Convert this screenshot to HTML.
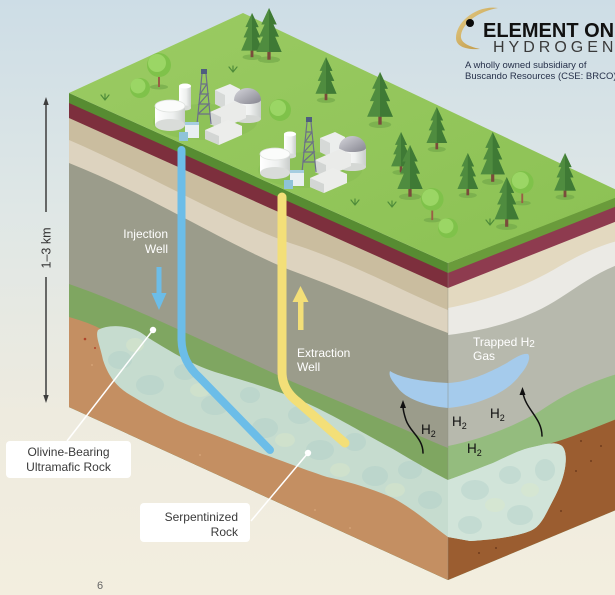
<!DOCTYPE html>
<html><head><meta charset="utf-8">
<style>
html,body{margin:0;padding:0;width:615px;height:595px;overflow:hidden;background:#e8ebe4;}
svg{display:block}
text{font-family:"Liberation Sans",sans-serif}
</style></head><body>
<svg width="615" height="595" viewBox="0 0 615 595" xmlns="http://www.w3.org/2000/svg">
<defs>
<linearGradient id="bg" x1="0" y1="0" x2="0" y2="1">
 <stop offset="0" stop-color="#cddde6"/>
 <stop offset="0.35" stop-color="#dfe7e6"/>
 <stop offset="0.7" stop-color="#eeebdf"/>
 <stop offset="1" stop-color="#f3eedf"/>
</linearGradient>
<linearGradient id="topg" x1="0" y1="0" x2="1" y2="1">
 <stop offset="0" stop-color="#9bcb63"/>
 <stop offset="1" stop-color="#8bc153"/>
</linearGradient>
<linearGradient id="cyl" x1="0" y1="0" x2="1" y2="0">
 <stop offset="0" stop-color="#ffffff"/>
 <stop offset="0.6" stop-color="#eef0ef"/>
 <stop offset="1" stop-color="#c9cdcb"/>
</linearGradient>
<linearGradient id="dome" x1="0" y1="0" x2="1" y2="1">
 <stop offset="0" stop-color="#d6d6dc"/>
 <stop offset="1" stop-color="#85858f"/>
</linearGradient>
<linearGradient id="gold" x1="0" y1="0" x2="1" y2="1">
 <stop offset="0" stop-color="#e6cf8a"/>
 <stop offset="1" stop-color="#b98e3a"/>
</linearGradient>
<clipPath id="lf"><polygon points="69,93 448,263 448,580 69,407"/></clipPath>
<clipPath id="rf"><polygon points="448,263 640,187 640,500 448,580"/></clipPath>
<clipPath id="blobclip"><path id="blobp" d="M98,330 C108,324 132,324 147,337 C165,348 190,364 215,372 C245,381 290,393 327,413 C345,422 365,434 393,449 C415,462 432,472 448,480 C465,474 480,468 493,463 C510,455 522,449 533,447 C545,444 556,441 562,446 C568,452 566,468 562,480 C558,492 552,502 548,510 C543,520 538,528 530,531 C515,537 490,540 470,541 L448,537 C430,524 415,510 393,498 C370,488 350,482 327,477 C300,468 280,460 260,453 C240,445 215,435 193,427 C170,418 145,404 127,393 C115,385 108,375 103,360 C100,345 95,336 98,330 Z"/></clipPath>
<symbol id="pine" viewBox="0 0 24 50" overflow="visible">
 <ellipse cx="12" cy="47" rx="10" ry="3" fill="#74a94a" opacity="0.7"/>
 <rect x="10.5" y="38" width="3" height="9" fill="#7a4b3b"/>
 <path d="M12 0 L5 15 L8 15 L3 26 L6.5 26 L0.5 40 L23.5 40 L17.5 26 L21 26 L16 15 L19 15 Z" fill="#4f8c3f"/>
 <path d="M12 0 L19 15 L16 15 L21 26 L17.5 26 L23.5 40 L12 40 Z" fill="#3f7a35"/>
</symbol>
<symbol id="rtree" viewBox="0 0 26 36" overflow="visible">
 <ellipse cx="13" cy="34" rx="9" ry="2.5" fill="#74a94a" opacity="0.7"/>
 <path d="M12 34 L12 18 L14 18 L14 34Z" fill="#9a5e45"/>
 <circle cx="13" cy="12" r="12" fill="#7fc24a"/>
 <circle cx="11" cy="10" r="9" fill="#9bd665"/>
</symbol>
<g id="fac">
 <ellipse cx="205" cy="122" rx="52" ry="18" fill="#84bb52" opacity="0.45"/>
 <rect x="179" y="86" width="12" height="22" fill="url(#cyl)"/>
 <ellipse cx="185" cy="108" rx="6" ry="2.5" fill="#d9dcd9"/>
 <ellipse cx="185" cy="86" rx="6" ry="2.5" fill="#ffffff"/>
 <polygon points="215,90 230,84 240,89 240,103 225,109 215,104" fill="#eceeed"/>
 <polygon points="215,90 225,95 225,109 215,104" fill="#d6d9d7"/>
 <rect x="234" y="100" width="27" height="19" fill="url(#cyl)"/>
 <ellipse cx="247.5" cy="119" rx="13.5" ry="4" fill="#d5d8d5"/>
 <path d="M234,100 A13.5,12 0 0 1 261,100 A13.5,4 0 0 1 234,100Z" fill="url(#dome)"/>
 <polygon points="210,112 235,101 246,106 246,118 221,129 210,124" fill="#eaebe9"/>
 <polygon points="210,112 221,117 221,129 210,124" fill="#d2d5d3"/>
 <g stroke="#6b7088" stroke-width="1.2" fill="none">
  <line x1="197" y1="124" x2="202" y2="74"/>
  <line x1="211" y1="124" x2="206" y2="74"/>
  <path d="M198,114 L210,114 M199,104 L209,104 M200,94 L208,94 M201,84 L207,84 M198,114 L209,104 L199,104 L208,94 L200,94 L207,84"/>
 </g>
 <rect x="201" y="69" width="6" height="5" fill="#4e5d80"/>
 <rect x="155" y="106" width="30" height="19" fill="url(#cyl)"/>
 <ellipse cx="170" cy="125" rx="15" ry="6" fill="#d9dcd9"/>
 <ellipse cx="170" cy="106" rx="15" ry="6" fill="#fbfcfb" stroke="#dfe2df" stroke-width="0.8"/>
 <polygon points="205,130 228,120 242,126 242,135 219,145 205,139" fill="#ecedeb"/>
 <polygon points="205,130 219,136 219,145 205,139" fill="#d3d6d4"/>
 <rect x="185" y="122" width="14" height="16" fill="#e8eff2"/>
 <rect x="185" y="122" width="14" height="3" fill="#a5cde0"/>
 <rect x="179" y="132" width="9" height="9" fill="#8ec3d9"/>
</g>
</defs>

<rect width="615" height="595" fill="url(#bg)"/>

<!-- LEFT FACE -->
<g clip-path="url(#lf)">
 <rect x="60" y="80" width="400" height="520" fill="#578c32"/>
 <polygon points="69,103 448,273 448,600 69,600" fill="#7d2f3d"/>
 <polygon points="69,118 448,288 448,600 69,600" fill="#cabd9f"/>
 <path d="M69,140 C150,175 230,222 290,243 C350,262 400,290 448,310 L448,600 L69,600Z" fill="#ddd3bf"/>
 <path d="M69,163 C150,195 230,246 290,270 C350,292 400,315 448,333 L448,600 L69,600Z" fill="#9b9c8b"/>
 <path d="M69,284 C130,305 200,340 293,382 C360,410 410,432 448,448 L448,600 L69,600Z" fill="#7fa661"/>
 <path d="M69,317 C90,323 100,328 110,334 L448,500 L448,600 L69,600Z" fill="#c48f62"/>
 <circle cx="85" cy="339" r="1.3" fill="#b0442a"/>
 <circle cx="95" cy="348" r="1" fill="#b0442a"/>
 <g fill="#d9a87c"><circle cx="92" cy="365" r="0.9"/><circle cx="200" cy="455" r="0.9"/><circle cx="315" cy="510" r="0.9"/><circle cx="350" cy="528" r="0.9"/></g>
</g>

<!-- RIGHT FACE -->
<g clip-path="url(#rf)">
 <rect x="440" y="180" width="210" height="420" fill="#6a9b3b"/>
 <polygon points="448,273 640,197 640,600 448,600" fill="#8e3b4f"/>
 <polygon points="448,288 640,212 640,600 448,600" fill="#e3d9c0"/>
 <path d="M448,308 C480,302 520,290 560,266 C585,252 605,242 640,236 L640,600 L448,600Z" fill="#ebeae5"/>
 <path d="M448,335 C490,330 530,318 560,298 C585,282 605,266 640,258 L640,600 L448,600Z" fill="#b7b9ad"/>
 <path d="M448,446 C480,440 515,426 540,411 C565,394 595,378 640,368 L640,600 L448,600Z" fill="#94bc7e"/>
 <path d="M448,505 C490,482 520,452 545,445 C575,437 600,425 640,410 L640,600 L448,600Z" fill="#9b5d30"/>
 <g fill="#7a4422">
  <rect x="580" y="440" width="2" height="2"/><rect x="590" y="460" width="2" height="2"/>
  <rect x="575" y="470" width="2" height="2"/><rect x="560" y="510" width="2" height="2"/>
  <rect x="478" y="552" width="2" height="2"/><rect x="495" y="547" width="2" height="2"/>
  <rect x="600" y="445" width="2" height="2"/>
 </g>
</g>
<line x1="448" y1="263" x2="448" y2="580" stroke="#8a8d80" stroke-width="0.6" opacity="0.6"/>

<!-- SERPENTINIZED BLOB -->
<use href="#blobp" fill="#c6dccf"/>
<g clip-path="url(#blobclip)">
 <polygon points="448,263 640,187 640,600 448,600" fill="#d1e4d9"/>
 <g fill="#a9cbc6" opacity="0.35">
  <ellipse cx="120" cy="360" rx="12" ry="9"/><ellipse cx="150" cy="385" rx="14" ry="10"/>
  <ellipse cx="185" cy="372" rx="11" ry="8"/><ellipse cx="215" cy="405" rx="14" ry="10"/>
  <ellipse cx="250" cy="395" rx="10" ry="8"/><ellipse cx="265" cy="428" rx="13" ry="10"/>
  <ellipse cx="300" cy="415" rx="12" ry="9"/><ellipse cx="320" cy="450" rx="14" ry="10"/>
  <ellipse cx="355" cy="442" rx="11" ry="9"/><ellipse cx="375" cy="476" rx="13" ry="10"/>
  <ellipse cx="410" cy="470" rx="12" ry="9"/><ellipse cx="430" cy="500" rx="12" ry="9"/>
  <ellipse cx="475" cy="490" rx="14" ry="10"/><ellipse cx="510" cy="475" rx="11" ry="9"/>
  <ellipse cx="520" cy="515" rx="13" ry="10"/><ellipse cx="545" cy="470" rx="10" ry="11"/>
  <ellipse cx="470" cy="525" rx="12" ry="9"/>
 </g>
 <g fill="#dbe9c8" opacity="0.4">
  <ellipse cx="135" cy="345" rx="9" ry="7"/><ellipse cx="200" cy="390" rx="10" ry="7"/>
  <ellipse cx="285" cy="440" rx="10" ry="7"/><ellipse cx="340" cy="470" rx="10" ry="7"/>
  <ellipse cx="395" cy="490" rx="10" ry="7"/><ellipse cx="495" cy="505" rx="10" ry="7"/>
  <ellipse cx="530" cy="490" rx="9" ry="7"/>
 </g>
</g>

<!-- WELLS -->
<path d="M181.5,150 L181.5,340 Q182,362 200,378 L270,450" fill="none" stroke="#6cbde8" stroke-width="8" stroke-linecap="round" stroke-linejoin="round"/>
<path d="M282,197 L282,372 Q282,390 298,402 L345,443" fill="none" stroke="#f3df78" stroke-width="9" stroke-linecap="round" stroke-linejoin="round"/>

<!-- well arrows -->
<rect x="156.5" y="267" width="5" height="28" fill="#6cbde8"/>
<polygon points="151.5,293 166.5,293 159,310" fill="#6cbde8"/>
<rect x="298" y="300" width="5.5" height="30" fill="#f3df78"/>
<polygon points="292.5,302 308.5,302 300.5,286" fill="#f3df78"/>

<!-- TRAPPED GAS -->
<path d="M390,371 C400,378 425,382 448,383 C470,382 490,372 505,364 C515,358 522,353 528,354 C531,357 528,366 520,375 C508,392 480,405 448,408 C425,406 405,398 398,388 C393,382 388,376 390,371Z" fill="#a5cbec"/>
<line x1="448" y1="370" x2="448" y2="408" stroke="#8a8d80" stroke-width="0.7" opacity="0.7"/>

<!-- TOP FACE -->
<polygon points="69,93 243,13 625,194 448,263" fill="url(#topg)"/>

<!-- grass tufts -->
<g stroke="#4f8c3a" stroke-width="1.2" fill="none" stroke-linecap="round">
 <path d="M105,100 l-4,-5 M105,100 l0,-6 M105,100 l4,-5"/>
 <path d="M233,72 l-4,-5 M233,72 l0,-6 M233,72 l4,-5"/>
 <path d="M355,205 l-4,-5 M355,205 l0,-6 M355,205 l4,-5"/>
 <path d="M392,207 l-4,-5 M392,207 l0,-6 M392,207 l4,-5"/>
 <path d="M490,225 l-4,-5 M490,225 l0,-6 M490,225 l4,-5"/>
</g>

<!-- trees back -->
<use href="#pine" x="240.7" y="13" width="22.6" height="47"/>
<use href="#pine" x="255.8" y="8" width="26.4" height="55"/>
<use href="#rtree" x="146" y="53" width="26" height="36"/>
<circle cx="140" cy="88" r="10" fill="#7fc24a"/>
<circle cx="138" cy="86" r="7.5" fill="#9bd665"/>
<use href="#pine" x="315" y="57" width="22" height="46"/>
<circle cx="280" cy="110" r="11" fill="#7fc24a"/>
<circle cx="278" cy="108" r="8" fill="#9bd665"/>

<!-- facilities -->
<use href="#fac"/>
<use href="#fac" transform="translate(105,48)"/>

<!-- trees front -->
<use href="#pine" x="366.5" y="72" width="27" height="56"/>
<use href="#pine" x="426" y="107" width="21.6" height="45"/>
<use href="#pine" x="390.7" y="132" width="20.6" height="43"/>
<use href="#pine" x="480" y="132" width="25.4" height="53"/>
<use href="#pine" x="457" y="153" width="21.6" height="45"/>
<use href="#pine" x="396.8" y="145" width="26.4" height="55"/>
<use href="#pine" x="553.7" y="153" width="22.6" height="47"/>
<use href="#rtree" x="510" y="171" width="24.5" height="34"/>
<use href="#rtree" x="420" y="188" width="24.5" height="34"/>
<use href="#pine" x="494" y="177" width="25.4" height="53"/>
<circle cx="448" cy="228" r="10" fill="#7fc24a"/>
<circle cx="446" cy="226" r="7.5" fill="#9bd665"/>

<!-- H2 rising arrows -->
<g fill="none" stroke="#111" stroke-width="1.5" stroke-linecap="round">
 <path d="M423,453 C423,438 410,432 406,420 C404,414 403,410 403,406"/>
 <path d="M542,436 C542,418 526,410 523,393"/>
</g>
<polygon points="403,400 400,408 406,408" fill="#111"/>
<polygon points="522.5,387 519.5,395 525.5,395" fill="#111"/>

<!-- H2 labels -->
<g fill="#111" font-size="13.5">
 <text x="421" y="434">H<tspan font-size="9" dy="3">2</tspan></text>
 <text x="452" y="426">H<tspan font-size="9" dy="3">2</tspan></text>
 <text x="490" y="418">H<tspan font-size="9" dy="3">2</tspan></text>
 <text x="467" y="453">H<tspan font-size="9" dy="3">2</tspan></text>
</g>

<!-- white labels -->
<g fill="#ffffff" font-size="12">
 <text x="168" y="238" text-anchor="end">Injection</text>
 <text x="168" y="253" text-anchor="end">Well</text>
 <text x="297" y="357">Extraction</text>
 <text x="297" y="371">Well</text>
 <text x="473" y="346">Trapped H<tspan font-size="10" dy="1">2</tspan></text>
 <text x="473" y="360">Gas</text>
</g>

<!-- callouts -->
<g stroke="#ffffff" stroke-width="1.5">
 <line x1="67" y1="441" x2="153" y2="330"/>
 <line x1="251" y1="521" x2="308" y2="453"/>
</g>
<circle cx="153" cy="330" r="3.2" fill="#ffffff"/>
<circle cx="308" cy="453" r="3.2" fill="#ffffff"/>
<rect x="6" y="441" width="125" height="37" rx="4" fill="#ffffff"/>
<rect x="140" y="503" width="110" height="39" rx="4" fill="#ffffff"/>
<g fill="#3a3a3a" font-size="12">
 <text x="68.5" y="456" text-anchor="middle">Olivine-Bearing</text>
 <text x="68.5" y="471" text-anchor="middle">Ultramafic Rock</text>
 <text x="238" y="521" text-anchor="end">Serpentinized</text>
 <text x="238" y="536" text-anchor="end">Rock</text>
</g>

<!-- scale -->
<g stroke="#3d3d3d" stroke-width="1.5">
 <line x1="46" y1="103" x2="46" y2="212"/>
 <line x1="46" y1="277" x2="46" y2="397"/>
</g>
<polygon points="46,97 43.3,105 48.7,105" fill="#3d3d3d"/>
<polygon points="46,403 43.3,395 48.7,395" fill="#3d3d3d"/>
<text transform="translate(50.5,248) rotate(-90)" text-anchor="middle" font-size="12.5" fill="#333">1–3 km</text>

<text x="97" y="589" font-size="11" fill="#666">6</text>

<!-- LOGO -->
<path d="M498,8 C476,5 456,22 456,38 C456,46 465,50 480,49 C467,46 460,42 461,35 C463,22 480,11 498,8Z" fill="url(#gold)"/>
<circle cx="470" cy="23" r="4" fill="#0a0a0a"/>
<text x="483" y="37" font-size="20" font-weight="bold" fill="#111">ELEMENT ONE</text>
<text x="493" y="52" font-size="16" letter-spacing="4" fill="#3a3a3a">HYDROGEN</text>
<g fill="#26304a" font-size="9.5">
 <text x="465" y="68">A wholly owned subsidiary of</text>
 <text x="465" y="79">Buscando Resources (CSE: BRCO)</text>
</g>
</svg>
</body></html>
